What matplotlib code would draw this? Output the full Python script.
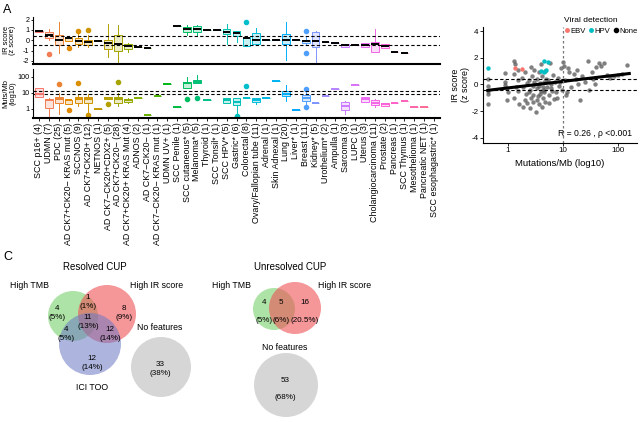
import numpy as np
import matplotlib.pyplot as plt
from matplotlib.patches import Circle
from matplotlib.lines import Line2D

plt.rcParams['font.family'] = ['Liberation Sans', 'DejaVu Sans']
plt.rcParams['axes.unicode_minus'] = False

# ---------------- data ----------------
categories = [
    'SCC p16+ (4)', 'UDMN (7)', 'PDC (25)', 'AD CK7+CK20\u2212 KRAS mut (5)', 'SCCNOS (9)',
    'AD CK7+CK20+ (12)', 'NETNOS (1)', 'AD CK7\u2212CK20+CDX2+ (5)', 'AD CK7+CK20\u2212 (28)',
    'AD CK7+CK20+ KRAS Mut (4)', 'ADNOS (2)', 'AD CK7\u2212CK20\u2212 (1)',
    'AD CK7\u2212CK20\u2212 KRAS mut (1)', 'UDMN UV+ (1)', 'SCC Penile (1)', 'SCC cutaneous* (5)',
    'Melanoma* (5)', 'Thyroid (1)', 'SCC Tonsil* (1)', 'SCC HPV* (5)', 'Gastric* (6)',
    'Colorectal (8)', 'Ovary/Fallopian tube (11)', 'Adrenal (1)', 'Skin Adnexal (1)',
    'Lung (20)', 'Liver* (1)', 'Breast (11)', 'Kidney* (5)', 'Urothelium* (2)', 'Ampulla (1)',
    'Sarcoma (3)', 'LUPC (1)', 'Uterus (3)', 'Cholangiocarcinoma (11)', 'Prostate (2)',
    'Pancreas (1)', 'SCC Thymus (1)', 'Mesothelioma (1)', 'Pancreatic NET (1)',
    'SCC esophagastric* (1)']

N = None
# IR score (z score) box summaries per category
ir_med = [0.85, 0.5, 0.07, 0.17, -0.1, -0.17, -0.1, -0.27, -0.33, -0.6, -0.67, -0.73, N, N,
          1.4, 1.07, 1.07, 1.0, 1.0, 0.77, 0.67, 0.17, 0.07, 0.07, 0.07, 0.07, 0.0, -0.1,
          -0.07, -0.17, -0.27, -0.43, -0.43, -0.43, -0.4, -0.53, -1.1, -1.27, N, N, N]
ir_q1 = [0.82, 0.17, -0.5, -0.07, -0.4, -0.5, N, -0.83, -1.0, -0.83, N, N, N, N,
         N, 0.83, 0.83, N, N, 0.6, 0.4, -0.6, -0.33, N, N, -0.33, N, -0.27,
         -0.67, N, N, -0.67, N, -0.67, -1.17, -0.73, N, N, N, N, N]
ir_q3 = [0.88, 0.83, 0.5, 0.33, 0.17, 0.07, N, 0.07, 0.5, -0.33, N, N, N, N,
         N, 1.33, 1.4, N, N, 1.1, 0.93, 0.33, 0.73, N, N, 0.6, N, 0.07,
         0.83, N, N, -0.33, N, -0.23, -0.17, -0.33, N, N, N, N, N]
ir_lo = [0.82, 0.0, -1.2, -0.1, -0.67, -0.67, N, -1.67, -2.17, -1.17, N, N, N, N,
         N, 0.5, 0.5, N, N, -0.33, -0.17, -0.6, -0.5, N, N, -1.93, N, -0.4,
         -2.17, N, N, -0.67, N, -0.67, -1.17, -0.73, N, N, N, N, N]
ir_hi = [0.88, 1.07, 1.8, 0.4, 0.67, 0.5, N, 1.57, 1.5, -0.27, N, N, N, N,
         N, 1.5, 1.5, N, N, 1.57, 0.93, 0.33, 1.17, N, N, 1.73, N, 0.3,
         0.9, N, N, -0.33, N, -0.23, 1.07, -0.33, N, N, N, N, N]
ir_out = {1: [-1.33], 3: [-0.73], 4: [0.9], 5: [1.0], 21: [1.73], 27: [0.9, -1.23]}

# Mutations/Mb box summaries per category
tmb_med = [8.7, 3.7, 4.0, 3.5, 4.0, 4.0, 1.0, 4.7, 4.0, 3.5, 4.5, 0.42, 6.2, 36,
           1.3, 40, 51, 3.6, N, 3.7, 2.7, 4.7, 3.5, 4.9, 59, 9.0, 0.87, 5.0,
           2.5, 6.5, 17, 1.5, 32, 4.0, 2.5, 1.9, 2.5, 3.0, 1.3, 1.3, N]
tmb_q1 = [5.4, 1.1, 2.3, 2.05, 2.3, 2.3, N, 4.0, 2.3, 2.6, N, N, N, N,
          N, 19.7, 40, N, N, 2.4, 1.8, 4.5, 2.9, N, N, 6.0, N, 3.3,
          N, N, N, 0.87, N, 2.9, 1.8, 1.5, N, N, N, N, N]
tmb_q3 = [19.7, 4.0, 5.9, 3.7, 5.4, 5.2, N, 5.4, 5.9, 4.4, N, N, N, N,
          N, 51, 65, N, N, 4.9, 4.7, 5.0, 4.7, N, N, 14, N, 7.5,
          N, N, N, 2.9, N, 5.4, 3.7, 2.3, N, N, N, N, N]
tmb_lo = [5.4, 0.3, 0.5, 2.0, 1.5, 0.5, N, 4.0, 1.5, 2.4, N, N, N, N,
          N, 19.7, 40, N, N, 2.2, 0.56, 4.5, 2.05, N, N, 3.0, N, 2.0,
          N, N, N, 0.5, N, 2.9, 1.3, 1.5, N, N, N, N, N]
tmb_hi = [20, 4.5, 9.6, 3.8, 9.0, 9.0, N, 5.4, 10, 4.6, N, N, N, N,
          N, 105, 133, N, N, 5.0, 4.7, 5.0, 4.7, N, N, 30, N, 12,
          N, N, N, 3.0, N, 5.4, 4.3, 2.3, N, N, N, N, N]
tmb_out = {2: [36], 3: [0.87], 4: [40], 5: [0.42], 7: [2.05], 8: [51], 15: [4.0],
           16: [4.7], 20: [0.38], 21: [27], 27: [17, 1.3]}

ir_cut = [0.43, -0.45]
tmb_cut = [9.0, 14.0]

# scatter: Mutations/Mb vs IR score
none_tmb = [0.43, 0.43, 0.43, 0.43, 0.43, 0.9, 0.9, 0.95, 0.95, 1.0, 0.9,
            1.3, 1.35, 1.3, 1.4, 1.3, 1.5, 1.5, 1.6, 1.55, 1.8, 1.9, 2.0, 2.0, 2.1, 2.2, 1.9, 2.2,
            2.4, 2.5, 2.6, 2.7, 2.8, 2.9, 2.5, 3.0, 2.6, 2.8, 3.0, 2.4,
            3.2, 3.3, 3.4, 3.5, 3.6, 3.7, 3.8, 3.9, 4.0, 3.4, 3.6, 3.8,
            4.2, 4.3, 4.4, 4.5, 4.6, 4.7, 4.8, 4.9, 4.1, 4.5,
            5.2, 5.4, 5.6, 5.8, 6.0, 6.2, 6.5, 6.8, 5.5, 7.0, 6.0,
            7.5, 8.0, 8.5, 9.0, 9.5, 7.8, 8.8,
            10, 10.5, 11, 12, 13, 14, 15.6, 17, 18, 20, 19, 11.5, 12.5,
            22, 25, 28, 30, 33, 35, 40, 45, 50, 38,
            55, 63, 70, 83, 100, 145, 120]
none_ir = [0.4, -0.1, -0.75, -1.5, -0.5, 0.85, 0.2, -0.3, -1.2, -0.6, -0.05,
           1.75, 1.5, 0.8, -0.2, -1.0, 0.3, -0.5, -1.5, 1.1, 0.5, -0.2, -1.2, 0.9, -0.7, 0.1, -1.7, -1.4,
           0.3, -0.4, -1.0, 0.6, -0.1, -0.8, -1.8, 1.1, 1.3, -1.3, 0.2, -0.6,
           -2.1, -0.3, 0.4, -0.9, 0.9, -1.5, 0.1, -0.5, 1.5, -1.2, -0.1, -0.7,
           0.6, -0.2, -1.0, 0.2, -0.6, 1.0, -1.3, 0.4, -1.7, -0.4,
           -0.2, 0.3, -0.8, 1.6, 0.0, -0.5, 0.7, -1.1, -1.4, 0.2, -0.3,
           -0.6, 0.5, -0.1, 1.2, -0.4, -1.0, 0.2,
           1.7, 1.4, 0.3, -0.55, 0.9, -0.2, 0.8, 0.4, 1.1, -1.2, 0.0, -0.8, 1.2,
           0.6, 0.2, 1.75, -0.45, 0.9, 0.4, 1.3, 1.6, 1.4, 0.0,
           1.6, 0.7, 0.5, 0.6, 0.7, 1.45, 0.8]
hpv_tmb = [4.6, 5.3, 3.9, 4.5, 5.0, 0.43]
hpv_ir = [1.75, 1.68, 1.0, 0.95, 1.1, 1.25]
ebv_tmb = [1.35, 1.8]
ebv_ir = [1.2, 1.15]
fit_intercept, fit_slope = -0.27, 0.49
stat_text = 'R = 0.26 , \u03c1 <0.001'

# Venn counts
resolved = {'tmb': '4\n(5%)', 'tmb_ir': '1\n(1%)', 'ir': '8\n(9%)', 'all': '11\n(13%)',
            'tmb_ici': '4\n(5%)', 'ir_ici': '12\n(14%)', 'ici': '12\n(14%)', 'none': '33\n(38%)'}
unresolved = {'tmb': '4', 'tmb_ir': '5', 'ir': '16', 'none': '53\n\n(68%)'}
unresolved_pct = {'tmb': '(5%)', 'tmb_ir': '(6%)', 'ir': '(20.5%)'}


def hcl(h, c=100, l=65):
    h = np.deg2rad(h)
    u, v = c * np.cos(h), c * np.sin(h)
    Xn, Yn, Zn = 95.047, 100.0, 108.883
    un = 4 * Xn / (Xn + 15 * Yn + 3 * Zn)
    vn = 9 * Yn / (Xn + 15 * Yn + 3 * Zn)
    Y = Yn * ((l + 16) / 116) ** 3
    up = u / (13 * l) + un
    vp = v / (13 * l) + vn
    X = 9 * Y * up / (4 * vp)
    Z = (9 * Y / vp - X - 15 * Y) / 3
    M = np.array([[3.2406, -1.5372, -0.4986], [-0.9689, 1.8758, 0.0415], [0.0557, -0.2040, 1.0570]])
    rgb = M @ np.array([X, Y, Z]) / 100
    rgb = np.where(rgb <= 0.0031308, 12.92 * rgb, 1.055 * np.clip(rgb, 0, None) ** (1 / 2.4) - 0.055)
    return tuple(np.clip(rgb, 0, 1))


ncat = len(categories)
hues = np.linspace(15, 375, ncat + 1)[:ncat]
colors = [hcl(h) for h in hues]


def draw_boxes(ax, med, q1, q3, lo, hi, out, median_color=None):
    for i, m in enumerate(med):
        if m is None:
            continue
        st = dict(med=m, q1=q1[i] if q1[i] is not None else m, q3=q3[i] if q3[i] is not None else m,
                  whislo=lo[i] if lo[i] is not None else m, whishi=hi[i] if hi[i] is not None else m,
                  fliers=out.get(i, []))
        c = colors[i]
        ax.bxp([st], positions=[i], widths=0.78, patch_artist=True, showcaps=False,
               boxprops=dict(facecolor=(*c, 0.22), edgecolor=c, linewidth=0.7),
               whiskerprops=dict(color=c, linewidth=0.7),
               medianprops=dict(color=median_color or c, linewidth=1.4),
               flierprops=dict(marker='o', markerfacecolor=c, markeredgecolor=c, markersize=3))


fig = plt.figure(figsize=(6.4, 4.22), dpi=100)
W, H = 640, 422


def px_axes(x0, y0, x1, y1):
    return fig.add_axes([x0 / W, 1 - y1 / H, (x1 - x0) / W, (y1 - y0) / H])


xl = (-0.6, 40.6)

# ---- top: IR score ----
ax1 = px_axes(33, 16.5, 440, 64)
draw_boxes(ax1, ir_med, ir_q1, ir_q3, ir_lo, ir_hi, ir_out, median_color='black')
for v in ir_cut:
    ax1.axhline(v, color='black', linestyle=(0, (3, 2)), linewidth=0.8)
ax1.set_xlim(*xl)
ax1.set_ylim(-2.3, 2.3)
ax1.set_yticks([-2, -1, 0, 1, 2])
ax1.set_xticks([])
for s in ['top', 'right']:
    ax1.spines[s].set_visible(False)
ax1.spines['bottom'].set_linewidth(1.5)

# ---- bottom: Muts/Mb ----
ax2 = px_axes(33, 69, 440, 118)
draw_boxes(ax2, tmb_med, tmb_q1, tmb_q3, tmb_lo, tmb_hi, tmb_out)
for v in tmb_cut:
    ax2.axhline(v, color='black', linestyle=(0, (3, 2)), linewidth=0.8)
ax2.set_yscale('log')
ax2.set_xlim(*xl)
ax2.set_ylim(0.27, 316)
ax2.set_yticks([1, 10, 100])
ax2.set_yticklabels(['1', '10', '100'])
ax2.minorticks_off()
ax2.set_xticks(range(ncat))
ax2.set_xticklabels(categories, rotation=90, fontsize=6.4)
for s in ['top', 'right']:
    ax2.spines[s].set_visible(False)
ax2.spines['bottom'].set_linewidth(1.5)

for ax in (ax1, ax2):
    ax.tick_params(axis='y', labelsize=5.2, length=1.8, width=0.6, pad=0.8)
    ax.tick_params(axis='x', length=2, width=0.6, pad=1.2)

ylab = dict(rotation=90, ha='center', va='center', fontsize=5.4, linespacing=0.95)
fig.text(9.5 / W, 1 - 40 / H, 'IR score\n(z score)', **ylab)
fig.text(9.5 / W, 1 - 93 / H, 'Muts/Mb\n(log10)', **ylab)

# ---- scatter ----
ax3 = px_axes(483, 27, 637, 143)
ax3.scatter(none_tmb, none_ir, s=10, color='#555555', alpha=0.75, linewidths=0)
ax3.scatter(hpv_tmb, hpv_ir, s=10, color=hcl(195), linewidths=0)
ax3.scatter(ebv_tmb, ebv_ir, s=10, color=hcl(15), linewidths=0)
xs = np.array([0.43, 160])
ax3.plot(xs, fit_intercept + fit_slope * np.log10(xs), color='black', linewidth=2.2)
for v in ir_cut:
    ax3.axhline(v, color='black', linestyle=(0, (3, 2)), linewidth=0.8)
ax3.axvline(10, color='#777777', linestyle=(0, (2, 2)), linewidth=0.9)
ax3.set_xscale('log')
ax3.set_xlim(0.351, 221)
ax3.set_ylim(-4.4, 4.3)
ax3.set_xticks([1, 10, 100])
ax3.set_xticklabels(['1', '10', '100'])
ax3.set_yticks([-4, -2, 0, 2, 4])
ax3.minorticks_off()
ax3.tick_params(labelsize=5.8, length=2, width=0.6, pad=1.2)
for s in ['top', 'right']:
    ax3.spines[s].set_visible(False)
ax3.set_xlabel('Mutations/Mb (log10)', fontsize=6.8, labelpad=3)
ax3.set_ylabel('IR score\n(z score)', fontsize=6.4, labelpad=1, linespacing=1.1)
ax3.text(0.97, 0.04, stat_text, transform=ax3.transAxes, ha='right', va='bottom', fontsize=6.2)
handles = [Line2D([], [], marker='o', linestyle='', color=hcl(15), markersize=2.5),
           Line2D([], [], marker='o', linestyle='', color=hcl(195), markersize=2.5),
           Line2D([], [], marker='o', linestyle='', color='black', markersize=3)]
leg = fig.legend(handles, ['EBV', 'HPV', 'None'], title='Viral detection', ncol=3, frameon=False,
                 fontsize=5.5, title_fontsize=6, loc='upper right', bbox_to_anchor=(638 / W, 1 - 17 / H),
                 handletextpad=0.05, columnspacing=0.35, borderpad=0, handlelength=0.8,
                 borderaxespad=0)
leg._legend_box.align = 'left'

# ---- panel labels ----
fig.text(3 / W, 1 - 10 / H, 'A', fontsize=9, va='center')
fig.text(3 / W, 1 - 257 / H, 'C', fontsize=9, va='center')

# ---- Venn diagrams ----
axv = px_axes(0, 250, 640, 422)
axv.set_xlim(0, 640)
axv.set_ylim(422, 250)
axv.axis('off')
green, red, blue, grey = '#5cc94e', '#ef5055', '#6b78c4', '#d2d2d2'
for (cx, cy, r, c, a) in [(73, 316, 25, green, 0.5), (107, 314, 29, red, 0.6),
                          (90, 344, 31, blue, 0.55), (161, 367, 30, grey, 0.9),
                          (274, 309, 21, green, 0.5), (295, 308, 26, red, 0.6),
                          (286, 385, 32, grey, 0.9)]:
    axv.add_patch(Circle((cx, cy), r, facecolor=c, alpha=a, edgecolor='none'))

fs = 5.8
tk = dict(ha='center', va='center', fontsize=fs, linespacing=1.25)
axv.text(95, 267, 'Resolved CUP', ha='center', va='center', fontsize=7)
axv.text(30, 286, 'High TMB', ha='center', va='center', fontsize=6.3)
axv.text(157, 286, 'High IR score', ha='center', va='center', fontsize=6.3)
axv.text(57, 313, resolved['tmb'], **tk)
axv.text(88, 302, resolved['tmb_ir'], **tk)
axv.text(124, 313, resolved['ir'], **tk)
axv.text(88, 322, resolved['all'], **tk)
axv.text(66, 334, resolved['tmb_ici'], **tk)
axv.text(110, 334, resolved['ir_ici'], **tk)
axv.text(92, 363, resolved['ici'], **tk)
axv.text(92, 388, 'ICI TOO', ha='center', va='center', fontsize=6.3)
axv.text(160, 328, 'No features', ha='center', va='center', fontsize=6.3)
axv.text(160, 369, resolved['none'], **tk)

axv.text(290, 267, 'Unresolved CUP', ha='center', va='center', fontsize=7)
axv.text(232, 286, 'High TMB', ha='center', va='center', fontsize=6.3)
axv.text(345, 286, 'High IR score', ha='center', va='center', fontsize=6.3)
for key, x in [('tmb', 264), ('tmb_ir', 281), ('ir', 305)]:
    axv.text(x, 303, unresolved[key], **tk)
    axv.text(x, 320, unresolved_pct[key], **tk)
axv.text(285, 347, 'No features', ha='center', va='center', fontsize=6.3)
axv.text(285, 389, unresolved['none'], **tk)

fig.savefig('out.png', dpi=100)
